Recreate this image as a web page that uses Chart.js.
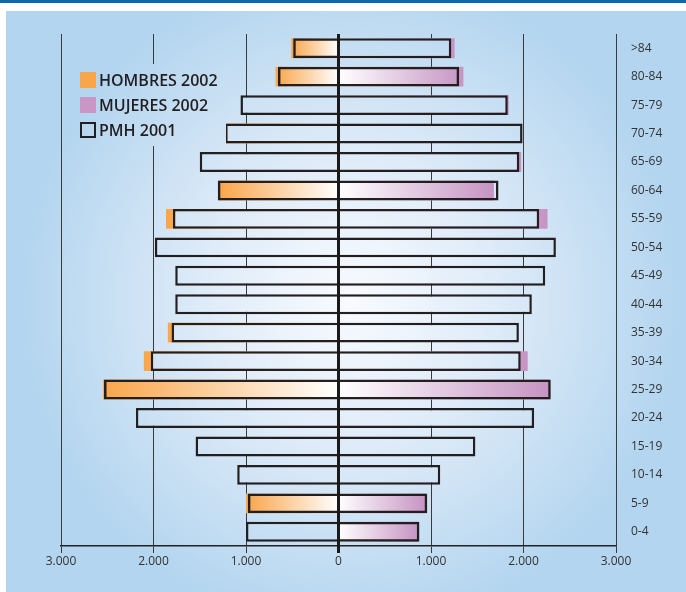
<!DOCTYPE html>
<html>
<head>
<meta charset="utf-8">
<script src="https://cdn.jsdelivr.net/npm/chart.js@4"></script>
<style>
  body { margin: 0; background: #fff; }
  #wrap { position: relative; width: 686px; height: 592px; }
  #leyenda { position: absolute; left: 80px; top: 72px; font-family: 'Open Sans', sans-serif;
             font-size: 16px; font-weight: 600; color: #231f20; }
  .item { position: relative; height: 25px; line-height: 17px; padding-left: 19px; }
  .sw { position: absolute; left: 0; top: 0; width: 16px; height: 16px; box-sizing: border-box; }
</style>
</head>
<body>
<div id="wrap">
  <canvas id="piramide" width="686" height="592"></canvas>
  <div id="leyenda">
    <div class="item"><span class="sw" style="background:#f9a54a"></span>HOMBRES 2002</div>
    <div class="item"><span class="sw" style="background:#c996c6"></span>MUJERES 2002</div>
    <div class="item"><span class="sw" style="border:2.5px solid #231f20"></span>PMH 2001</div>
  </div>
</div>
<script>
// grupos de edad, de arriba abajo
const grupos = ['>84', '80-84', '75-79', '70-74', '65-69', '60-64', '55-59', '50-54', '45-49',
                '40-44', '35-39', '30-34', '25-29', '20-24', '15-19', '10-14', '5-9', '0-4'];

// PMH 2001
const pmhHombres = [490, 655, 1060, 1225, 1500, 1305, 1790, 1985, 1765, 1765, 1805, 2030, 2535, 2190, 1545, 1095, 980, 1000];
const pmhMujeres = [1220, 1305, 1830, 1990, 1955, 1730, 2170, 2350, 2235, 2090, 1950, 1970, 2295, 2115, 1480, 1100, 960, 875];

// 2002 (solo donde se ve en el grafico)
const hombres2002 = [510, 680, null, 1275, null, 1295, 1865, null, null, null, 1845, 2105, 2545, null, null, null, 1000, null];
const mujeres2002 = [1255, 1350, 1840, null, 1975, 1680, 2260, null, null, null, null, 2045, 2280, null, null, null, 940, 865];

// filas en las que la barra 2002 se ve entera dentro del marco PMH
const verHombres = ['>84', '80-84', '60-64', '25-29', '5-9'];
const verMujeres = ['80-84', '60-64', '25-29', '5-9', '0-4'];

const ticksX = [-3000, -2000, -1000, 0, 1000, 2000, 3000];

let fondo = null;
function fondoPanel(ctx) {
    if (!fondo) {
        fondo = ctx.createRadialGradient(350, 300, 0, 350, 300, 330);
        fondo.addColorStop(0, '#f8fbff');
        fondo.addColorStop(0.45, '#deebf8');
        fondo.addColorStop(1, '#b3d5ef');
    }
    return fondo;
}

function degradado(color, signo) {
    return (c) => {
        const chart = c.chart;
        if (!chart.chartArea || c.raw == null) return color;
        const x = chart.scales.x;
        const x0 = x.getPixelForValue(0);
        const x1 = x.getPixelForValue(c.raw);
        const g = chart.ctx.createLinearGradient(x1, 0, x0, 0);
        g.addColorStop(0, color);
        g.addColorStop(1, '#ffffff');
        return g;
    };
}

function rellenoPmh(visibles) {
    return (c) => visibles.includes(grupos[c.dataIndex]) ? 'rgba(0,0,0,0)' : fondoPanel(c.chart.ctx);
}

const pluginFondo = {
    id: 'fondo',
    beforeDraw(chart) {
        const ctx = chart.ctx;
        ctx.save();
        ctx.fillStyle = '#ffffff';
        ctx.fillRect(0, 0, chart.width, chart.height);
        ctx.fillStyle = '#0b69ad';
        ctx.fillRect(0, 0, chart.width, 3);
        ctx.fillStyle = fondoPanel(ctx);
        ctx.fillRect(6, 11, chart.width - 6, chart.height - 11);
        ctx.restore();
    },
    afterDraw(chart) {
        const ctx = chart.ctx;
        const x = chart.scales.x;
        const a = chart.chartArea;
        // linea del cero
        ctx.save();
        ctx.strokeStyle = '#1a1a1a';
        ctx.lineWidth = 3;
        ctx.beginPath();
        ctx.moveTo(x.getPixelForValue(0), a.top);
        ctx.lineTo(x.getPixelForValue(0), a.bottom + 7);
        ctx.stroke();
        // hueco de la leyenda
        ctx.fillStyle = fondoPanel(ctx);
        ctx.fillRect(76, 64, 150, 82);
        ctx.restore();
    }
};

const pmhComun = {
    borderColor: '#231f20',
    borderWidth: 2.5,
    grouped: false,
    categoryPercentage: 1,
    barPercentage: 0.7
};

new Chart(document.getElementById('piramide'), {
    type: 'bar',
    data: {
        labels: grupos,
        datasets: [
            Object.assign({ label: 'PMH 2001 H', data: pmhHombres.map(v => -v),
                            backgroundColor: rellenoPmh(verHombres) }, pmhComun),
            Object.assign({ label: 'PMH 2001 M', data: pmhMujeres,
                            backgroundColor: rellenoPmh(verMujeres) }, pmhComun),
            { label: 'HOMBRES 2002', data: hombres2002.map(v => v == null ? null : -v),
              backgroundColor: degradado('#f9a54a'), borderWidth: 0, grouped: false,
              categoryPercentage: 1, barPercentage: 0.7 },
            { label: 'MUJERES 2002', data: mujeres2002,
              backgroundColor: degradado('#c694c3'), borderWidth: 0, grouped: false,
              categoryPercentage: 1, barPercentage: 0.7 }
        ]
    },
    options: {
        indexAxis: 'y',
        responsive: false,
        animation: false,
        layout: { padding: { left: 61, top: 34, right: 0, bottom: 0 } },
        plugins: {
            legend: { display: false },
            tooltip: { enabled: false }
        },
        scales: {
            x: {
                min: -3000,
                max: 3000,
                z: 1,
                afterBuildTicks: (s) => { s.ticks = ticksX.map(v => ({ value: v })); },
                afterFit: (s) => { s.height = 46; },
                grid: {
                    color: '#3a3a3a',
                    lineWidth: (c) => c.tick && c.tick.value === 0 ? 0 : 1,
                    tickLength: 7
                },
                border: { display: true, color: '#222', width: 1.5 },
                ticks: {
                    padding: 1,
                    color: '#333',
                    font: { family: "'Open Sans', sans-serif", size: 12 },
                    callback: (v) => Math.abs(v).toLocaleString('de-DE')
                }
            },
            y: {
                position: 'right',
                afterFit: (s) => { s.width = 70; },
                grid: { display: false },
                border: { display: false },
                ticks: {
                    padding: 7,
                    color: '#333',
                    font: { family: "'Open Sans', sans-serif", size: 12 }
                }
            }
        }
    },
    plugins: [pluginFondo]
});
</script>
</body>
</html>
